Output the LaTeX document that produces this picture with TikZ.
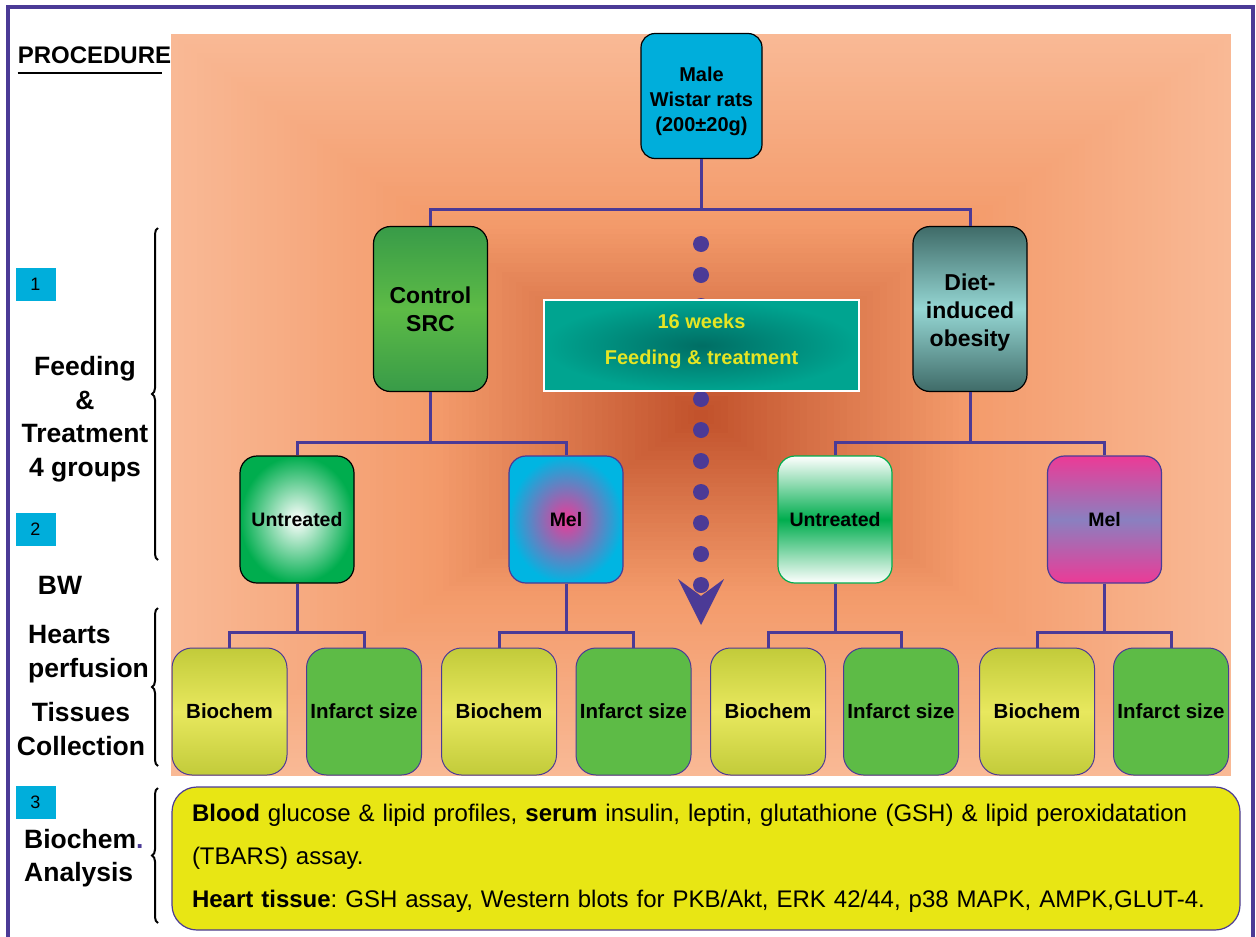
\documentclass[tikz,border=0pt]{standalone}
\usepackage{fontspec}
\setmainfont{Liberation Sans}
\usepackage{tikz}
\usetikzlibrary{positioning,shapes,decorations.pathreplacing}
\usepackage{xcolor}
\frenchspacing
\definecolor{frameviolet}{HTML}{4B3A96}
\definecolor{peach}{HTML}{F9B995}
\definecolor{apricot}{HTML}{F39A6A}
\definecolor{rust}{HTML}{C0502A}
\definecolor{ratblue}{HTML}{00AEDB}
\definecolor{leafgreen}{HTML}{5DBB46}
\definecolor{darkleaf}{HTML}{389B48}
\definecolor{tealdark}{HTML}{3F6B68}
\definecolor{teallight}{HTML}{95D6D3}
\definecolor{grassgreen}{HTML}{00AD4E}
\definecolor{melpink}{HTML}{EC3A96}
\definecolor{melcyan}{HTML}{00B5E2}
\definecolor{lavender}{HTML}{8A80C0}
\definecolor{olive}{HTML}{C2CB3A}
\definecolor{lemon}{HTML}{E8E85E}
\definecolor{weekteal}{HTML}{00A490}
\definecolor{weekdark}{HTML}{006E64}
\definecolor{weektext}{HTML}{E5E524}
\definecolor{notebox}{HTML}{E8E614}
\tikzstyle{link}=[draw=frameviolet, line width=3pt]
\tikzstyle{cohort}=[rectangle, rounded corners=17pt, draw=black, line width=1.2pt, minimum width=114pt,
minimum height=165pt, inner sep=0pt, align=center, font=\fontsize{23}{28}\selectfont\bfseries]
\tikzstyle{arm}=[cohort, minimum height=127pt, font=\fontsize{19.5}{22}\selectfont\bfseries]
\tikzstyle{assay}=[rectangle, rounded corners=20pt, draw=frameviolet, line width=1pt, minimum width=115pt,
minimum height=127pt, inner sep=0pt, font=\fontsize{20.5}{24}\selectfont\bfseries]
\tikzstyle{biochem}=[assay, top color=olive, bottom color=olive, middle color=lemon]
\tikzstyle{infarct}=[assay, fill=leafgreen]
\tikzstyle{stage}=[inner sep=0pt, font=\fontsize{26.5}{33.5}\selectfont\bfseries]
\tikzstyle{tag}=[rectangle, fill=ratblue, minimum width=40pt, minimum height=33pt, inner sep=0pt,
font=\fontsize{18}{18}\selectfont]
\tikzstyle{bracket}=[decorate, decoration={brace, amplitude=6pt}, line width=2pt]

\begin{document}
\begin{tikzpicture}[x=1pt, y=-1pt]
        \useasboundingbox (0,0) rectangle (1256,937);
        \draw[frameviolet, line width=4pt] (8,7) rectangle (1253,990);

        % background glow
        \foreach \i in {0,...,79}{
            \pgfmathsetmacro\s{1-\i/80}
            \ifnum\i<40 \pgfmathtruncatemacro\p{\i*100/40}\colorlet{bgtint}{apricot!\p!peach}
            \else \pgfmathtruncatemacro\p{(\i-40)*100/40}\colorlet{bgtint}{rust!\p!apricot}\fi
            \fill[bgtint] ({701-530*\s},{415-381*\s}) rectangle ({701+530*\s},{415+361*\s});
        }

        \node (proc) [inner sep=0pt, font=\fontsize{24}{24}\selectfont\bfseries] at (94.5,55.5) {PROCEDURE};
        \draw[line width=2.5pt] ([yshift=-9pt]proc.south west) -- ++(144,0);

        % time line
        \coordinate (flowtop) at (701,244);
        \coordinate (flowlast) at (701,585.5);
        \coordinate (flowtip) at (701,625);
        \draw[frameviolet, line width=16pt, line cap=round, dash pattern=on 0pt off 31pt] (flowtop) -- (flowlast);
        \fill[frameviolet] (flowtip) -- ++(-23,-46) -- ++(23,17) -- ++(23,-17) -- cycle;

        \node (rats) [cohort, fill=ratblue, minimum width=121pt, minimum height=125pt, rounded corners=14pt,
                font=\fontsize{20}{25}\selectfont\bfseries] at (701.5,96) {\rule{0pt}{26pt}Male\\Wistar rats\\(200±20g)};
        \node (ctrl) [cohort, top color=darkleaf, bottom color=darkleaf, middle color=leafgreen] at (430.5,309) {Control\\SRC};
        \node (diet) [cohort, top color=tealdark, bottom color=tealdark, middle color=teallight] at (970,309) {\rule{0pt}{23pt}Diet-\\induced\\obesity};

        \node (weeks) [rectangle, draw=white, line width=1.5pt, inner color=weekdark, outer color=weekteal,
                minimum width=315pt, minimum height=91pt, align=center, text=weektext,
                font=\fontsize{20}{36}\selectfont\bfseries] at (701.5,345.5) {16 weeks\\Feeding \& treatment\rule[-12pt]{0pt}{1pt}};

        \node (ctrlu) [arm, inner color=white, outer color=grassgreen] at (297,519.5) {Untreated};
        \node (ctrlm) [arm, draw=frameviolet, inner color=melpink, outer color=melcyan] at (566,519.5) {Mel};
        \node (dietu) [arm, draw=grassgreen, top color=white, bottom color=white, middle color=grassgreen] at (835,519.5) {Untreated};
        \node (dietm) [arm, draw=frameviolet, top color=melpink, bottom color=melpink, middle color=lavender] at (1104.5,519.5) {Mel};

        \node (ctrlub) [biochem] at (229.5,711.5) {Biochem};
        \node (ctrlui) [infarct] at (364,711.5) {Infarct size};
        \node (ctrlmb) [biochem] at (499,711.5) {Biochem};
        \node (ctrlmi) [infarct] at (633.5,711.5) {Infarct size};
        \node (dietub) [biochem] at (768,711.5) {Biochem};
        \node (dietui) [infarct] at (901,711.5) {Infarct size};
        \node (dietmb) [biochem] at (1037,711.5) {Biochem};
        \node (dietmi) [infarct] at (1171,711.5) {Infarct size};

        % tree
        \draw[link] (rats.south) -- ++(0,50) coordinate (forkr) -| (ctrl.north);
        \draw[link] (forkr) -| (diet.north);
        \draw[link] (ctrl.south) -- ++(0,50) coordinate (forkc) -| (ctrlu.north);
        \draw[link] (forkc) -| (ctrlm.north);
        \draw[link] (diet.south) -- ++(0,50) coordinate (forkd) -| (dietu.north);
        \draw[link] (forkd) -| (dietm.north);
        \draw[link] (ctrlu.south) -- ++(0,49) coordinate (forkcu) -| (ctrlub.north);
        \draw[link] (forkcu) -| (ctrlui.north);
        \draw[link] (ctrlm.south) -- ++(0,49) coordinate (forkcm) -| (ctrlmb.north);
        \draw[link] (forkcm) -| (ctrlmi.north);
        \draw[link] (dietu.south) -- ++(0,49) coordinate (forkdu) -| (dietub.north);
        \draw[link] (forkdu) -| (dietui.north);
        \draw[link] (dietm.south) -- ++(0,49) coordinate (forkdm) -| (dietmb.north);
        \draw[link] (forkdm) -| (dietmi.north);

        \node (note) [rectangle, rounded corners=25pt, draw=frameviolet, line width=1.2pt, fill=notebox,
                minimum width=1068pt, minimum height=143pt, text width=1028pt, inner xsep=20pt, align=left,
                font=\fontsize{24}{43}\selectfont] at (706,858.5)
                {\mbox{\textbf{Blood} glucose \& lipid profiles, \textbf{serum} insulin, leptin, glutathione (GSH) \& lipid peroxidatation}\\
                (TBARS) assay.\\
                \mbox{\textbf{Heart tissue}: GSH assay, Western blots for PKB/Akt, ERK 42/44, p38 MAPK, AMPK,GLUT-4.}};

        % side labels
        \node (tag1) [tag] at (35.5,284) {1};
        \node (tag2) [tag] at (35.5,529) {2};
        \node (tag3) [tag] at (35.5,802) {3};
        \node (feedlbl) [stage, align=center] at (85,419) {Feeding\\\&\\Treatment\\4 groups};
        \node (bwlbl) [stage] at (60,585) {BW};
        \node (heartlbl) [stage, align=left, anchor=west] at (28,654) {Hearts\\perfusion};
        \node (tisslbl) [stage, align=center] at (81,729) {Tissues\\Collection};
        \node (biolbl) [stage, align=left, anchor=west] at (24,858) {Biochem{\color{frameviolet}.}\\Analysis};

        \draw[bracket] (158,560) -- (158,228);
        \draw[bracket] (158,766) -- (158,608);
        \draw[bracket] (158,923) -- (158,788);
    \end{tikzpicture}
\end{document}
